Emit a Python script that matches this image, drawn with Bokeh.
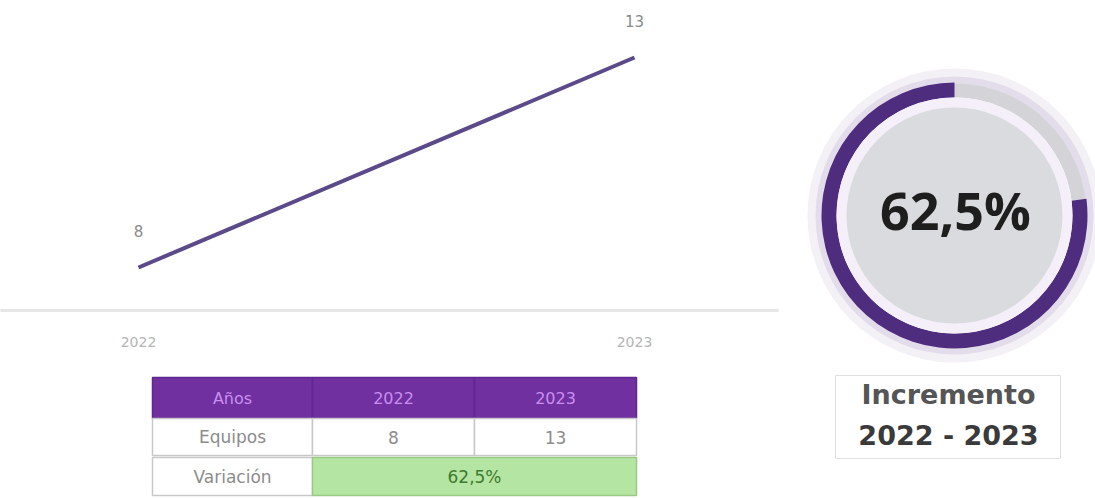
import math
from bokeh.plotting import figure
from bokeh.layouts import row, column
from bokeh.models import Range1d, FixedTicker
from bokeh.core.properties import value
from bokeh.embed import file_html
from bokeh.resources import INLINE

# ---------------- data ----------------
years = ["2022", "2023"]
year_num = [2022, 2023]
equipos = [8, 13]
variacion_label = "62,5%"
table_header = ["Años", "2022", "2023"]
row_labels = ["Equipos", "Variación"]
gauge_share = 0.77          # fraction of the ring drawn in purple
caption = ["Incremento", "2022 - 2023"]

FONT = "DejaVu Sans"

# ---------------- line chart ----------------
p1 = figure(width=790, height=368, output_backend="svg", toolbar_location=None,
            x_range=Range1d(2021.7218, 2023.2903), y_range=Range1d(6.976, 14.357),
            min_border_left=0, min_border_right=12, min_border_top=0, min_border_bottom=58)
p1.yaxis.visible = False
p1.xgrid.visible = False
p1.ygrid.visible = False
p1.outline_line_color = None
p1.xaxis.ticker = FixedTicker(ticks=year_num)
p1.xaxis.major_label_overrides = {y: s for y, s in zip(year_num, years)}
p1.xaxis.axis_line_color = "#e6e6e6"
p1.xaxis.axis_line_width = 3
p1.xaxis.major_tick_line_color = None
p1.xaxis.minor_tick_line_color = None
p1.xaxis.major_label_text_color = "#b5b5b5"
p1.xaxis.major_label_text_font = FONT
p1.xaxis.major_label_text_font_size = "14px"
p1.xaxis.major_label_standoff = 20

p1.line(year_num, equipos, line_color="#5b4a8a", line_width=4)
p1.text(year_num, equipos, text=[str(v) for v in equipos], text_align="center",
        text_baseline="middle", y_offset=-36, text_font=value(FONT),
        text_font_size="15px", text_color="#8a8a8a")

# ---------------- table ----------------
# frame of this figure is aligned with the line chart frame (778 px wide)
p2 = figure(width=790, height=130, output_backend="svg", toolbar_location=None,
            x_range=Range1d(0, 778), y_range=Range1d(130, 0),
            min_border=0, min_border_right=12)
p2.axis.visible = False
p2.grid.visible = False
p2.outline_line_color = None

col_l = [152, 312, 474]
col_r = [312, 474, 636]
row_t = [9, 50, 89]
row_b = [50, 87, 127]
xc = [(a + b) / 2 for a, b in zip(col_l, col_r)]

p2.quad(left=col_l, right=col_r, top=[row_t[0]] * 3, bottom=[row_b[0]] * 3,
        fill_color="#7030A0", line_color="#5f2790", line_width=1.5)
p2.text(xc, [(row_t[0] + row_b[0]) / 2] * 3,
        text=table_header, text_align="center", text_baseline="middle",
        text_font=value(FONT), text_font_size="16px",
        text_color="#c98ef0")

p2.quad(left=col_l, right=col_r, top=[row_t[1]] * 3, bottom=[row_b[1]] * 3,
        fill_color="white", line_color="#c8c8c8", line_width=1.5)
p2.text(xc, [(row_t[1] + row_b[1]) / 2] * 3,
        text=[row_labels[0]] + [str(v) for v in equipos], text_align="center",
        text_baseline="middle", text_font=value(FONT), text_font_size="17px",
        text_color="#8c8c8c")

p2.quad(left=[col_l[0]], right=[col_r[0]], top=[row_t[2]], bottom=[row_b[2]],
        fill_color="white", line_color="#c8c8c8", line_width=1.5)
p2.quad(left=[col_l[1]], right=[col_r[2]], top=[row_t[2]], bottom=[row_b[2]],
        fill_color="#b4e5a2", line_color="#98c985", line_width=1.5)
p2.text([xc[0], (col_l[1] + col_r[2]) / 2],
        [(row_t[2] + row_b[2]) / 2] * 2,
        text=[row_labels[1], variacion_label], text_align="center",
        text_baseline="middle", text_font=value(FONT), text_font_size="17px",
        text_color=["#8c8c8c", "#3f7a2f"])

# ---------------- gauge ----------------
p3 = figure(width=305, height=498, output_backend="svg", toolbar_location=None,
            x_range=Range1d(0, 305), y_range=Range1d(0, 498), min_border=0)
p3.axis.visible = False
p3.grid.visible = False
p3.outline_line_color = None

cx, cy = 164, 283
p3.annular_wedge([cx], [cy], inner_radius=132, outer_radius=147, start_angle=0,
                 end_angle=2 * math.pi, fill_color="#f3f0f6", line_color=None)
p3.annular_wedge([cx], [cy], inner_radius=128, outer_radius=139, start_angle=0,
                 end_angle=2 * math.pi, fill_color="#e3dcea", line_color=None)
p3.annular_wedge([cx], [cy], inner_radius=118, outer_radius=132, start_angle=0,
                 end_angle=2 * math.pi, fill_color="#d4d4d8", line_color=None)
p3.annular_wedge([cx], [cy], inner_radius=118, outer_radius=133,
                 start_angle=math.pi / 2,
                 end_angle=math.pi / 2 + gauge_share * 2 * math.pi,
                 direction="anticlock", fill_color="#4e2d7f", line_color=None)
p3.circle([cx], [cy], radius=118, fill_color="#f4eff9", line_color=None)
p3.circle([cx], [cy], radius=108, fill_color="#dadbde", line_color=None)
p3.text([cx + 1], [289], text=[variacion_label], text_align="center",
        text_baseline="middle", text_font=value("Open Sans"), text_font_size="52px",
        text_font_style="bold", text_color="#1e1e1e")

p3.quad(left=[45], right=[270], top=[123], bottom=[40], fill_color="white",
        line_color="#e0e0e0", line_width=1)
p3.text([cx - 6, cx - 6], [104, 63], text=caption, text_align="center",
        text_baseline="middle", text_font=value(FONT), text_font_size="27px",
        text_font_style="bold", text_color=["#555555", "#3a3a3a"])

layout = row(column(p1, p2), p3)
open("out.html", "w").write(file_html(layout, INLINE))
